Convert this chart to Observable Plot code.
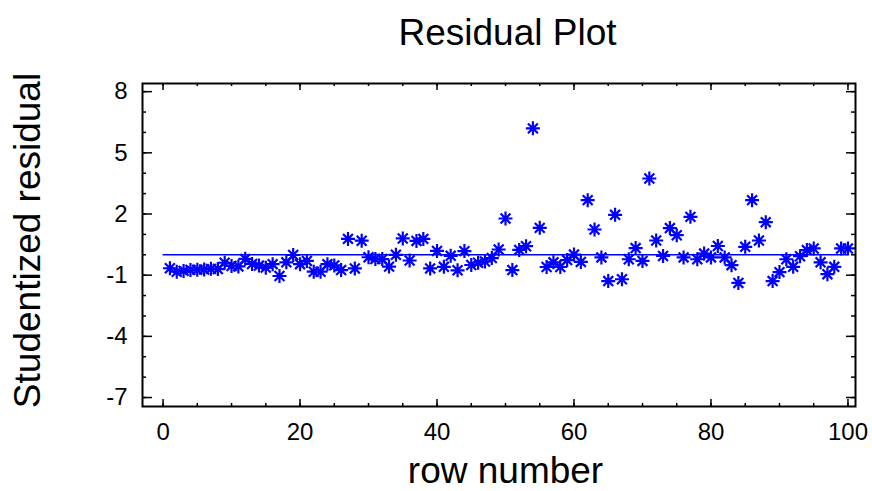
<!DOCTYPE html>
<html><head><meta charset="utf-8">
<script src="https://cdn.jsdelivr.net/npm/d3@7"></script>
<script src="https://cdn.jsdelivr.net/npm/@observablehq/plot@0.6"></script>
<style>body{margin:0;background:#fff;} svg{display:block}</style>
</head><body><div id="chart"></div>
<script>
const rows = [1,2,3,4,5,6,7,8,9,10,11,12,13,14,15,16,17,18,19,20,21,22,23,24,25,26,27,28,29,30,31,32,33,34,35,36,37,38,39,40,41,42,43,44,45,46,47,48,49,50,51,52,53,54,55,56,57,58,59,60,61,62,63,64,65,66,67,68,69,70,71,72,73,74,75,76,77,78,79,80,81,82,83,84,85,86,87,88,89,90,91,92,93,94,95,96,97,98,99,100];
const residuals = [
 -0.66,-0.83,-0.79,-0.74,-0.73,-0.72,-0.69,-0.70,-0.39,-0.55,
 -0.57,-0.20,-0.45,-0.53,-0.63,-0.46,-1.04,-0.37,-0.01,-0.46,
 -0.30,-0.83,-0.83,-0.46,-0.52,-0.75,0.78,-0.67,0.69,-0.12,
 -0.21,-0.21,-0.58,0.00,0.80,-0.28,0.68,0.78,-0.67,0.19,
 -0.59,-0.05,-0.76,0.18,-0.50,-0.39,-0.33,-0.16,0.26,1.78,
 -0.75,0.24,0.42,6.20,1.32,-0.60,-0.37,-0.60,-0.26,0.01,
 -0.35,2.68,1.24,-0.13,-1.29,1.96,-1.20,-0.22,0.33,-0.30,
 3.74,0.70,-0.06,1.31,0.96,-0.13,1.86,-0.22,0.06,-0.13,
 0.43,-0.13,-0.51,-1.38,0.39,2.68,0.70,1.60,-1.29,-0.85,
 -0.22,-0.59,-0.07,0.23,0.31,-0.37,-0.95,-0.59,0.31,0.31
];
const fitRange = [0, 100];
const fitValue = 0;
const xMajorTicks = [0, 20, 40, 60, 80, 100];
const xMinorTicks = [0,5,10,15,20,25,30,35,40,45,50,55,60,65,70,75,80,85,90,95,100];
const yMajorTicks = [8, 5, 2, -1, -4, -7];
const yMinorTicks = [-7,-6,-5,-4,-3,-2,-1,0,1,2,3,4,5,6,7,8];
const titleText = "Residual Plot";
const xLabel = "row number";
const yLabel = "Studentized residual";

const data = rows.map((r, i) => ({row: r, res: residuals[i]}));

const W = 872, H = 491;
const mL = 142, mR = 17, mT = 83, mB = 85;
const pw = W - mL - mR, ph = H - mT - mB;

const asterisk = {
  draw(ctx, size) {
    const r = Math.sqrt(size / Math.PI);
    const angs = [0, Math.PI / 4, Math.PI / 2, 3 * Math.PI / 4];
    for (const a of angs) {
      const dx = r * Math.cos(a), dy = r * Math.sin(a);
      ctx.moveTo(-dx, -dy); ctx.lineTo(dx, dy);
    }
  }
};

const font = "'Liberation Sans', Arial, Helvetica, sans-serif";

const chart = Plot.plot({
  width: W, height: H,
  marginLeft: mL, marginRight: mR, marginTop: mT, marginBottom: mB,
  style: {fontFamily: font, fontSize: "24px", background: "white", color: "black"},
  x: {domain: [-3, 101.1], axis: null},
  y: {domain: [-7.44, 8.4], axis: null},
  marks: [
    Plot.ruleY([fitValue], {x1: fitRange[0], x2: fitRange[1], stroke: "#0000ff", strokeWidth: 1.5}),
    Plot.dot(data, {x: "row", y: "res", symbol: asterisk, r: 7, stroke: "#0000ff", strokeWidth: 2.2, fill: "none"}),
    // inward ticks
    Plot.tickX(xMajorTicks, {x: d => d, insetTop: ph - 7, stroke: "black", strokeWidth: 1.5}),
    Plot.tickX(xMinorTicks, {x: d => d, insetTop: ph - 3, stroke: "black", strokeWidth: 1.5}),
    Plot.tickX(xMajorTicks, {x: d => d, insetBottom: ph - 7, stroke: "black", strokeWidth: 1.5}),
    Plot.tickX(xMinorTicks, {x: d => d, insetBottom: ph - 3, stroke: "black", strokeWidth: 1.5}),
    Plot.tickY(yMajorTicks, {y: d => d, insetRight: pw - 10, stroke: "black", strokeWidth: 1.5}),
    Plot.tickY(yMinorTicks, {y: d => d, insetRight: pw - 4, stroke: "black", strokeWidth: 1.5}),
    Plot.tickY(yMajorTicks, {y: d => d, insetLeft: pw - 9, stroke: "black", strokeWidth: 1.5}),
    Plot.tickY(yMinorTicks, {y: d => d, insetLeft: pw - 4, stroke: "black", strokeWidth: 1.5}),
    Plot.frame({stroke: "black", strokeWidth: 2}),
    Plot.axisX(xMajorTicks, {anchor: "bottom", tickSize: 0, tickPadding: 16, fontSize: 24, label: null, tickFormat: d => String(d)}),
    Plot.axisY(yMajorTicks, {anchor: "left", tickSize: 0, tickPadding: 15, fontSize: 24, label: null, tickFormat: d => String(d)}),
    Plot.text([titleText], {frameAnchor: "top", textAnchor: "middle", lineAnchor: "middle", dx: 8.5, dy: -50, fontSize: 37, fill: "black"}),
    Plot.text([xLabel], {frameAnchor: "bottom", textAnchor: "middle", lineAnchor: "middle", dx: 6.5, dy: 65, fontSize: 37, fill: "black"}),
    Plot.text([yLabel], {frameAnchor: "left", textAnchor: "middle", lineAnchor: "middle", rotate: -90, dx: -114, dy: -4.5, fontSize: 37, fill: "black"})
  ]
});
document.getElementById("chart").appendChild(chart);
</script>
</body></html>
